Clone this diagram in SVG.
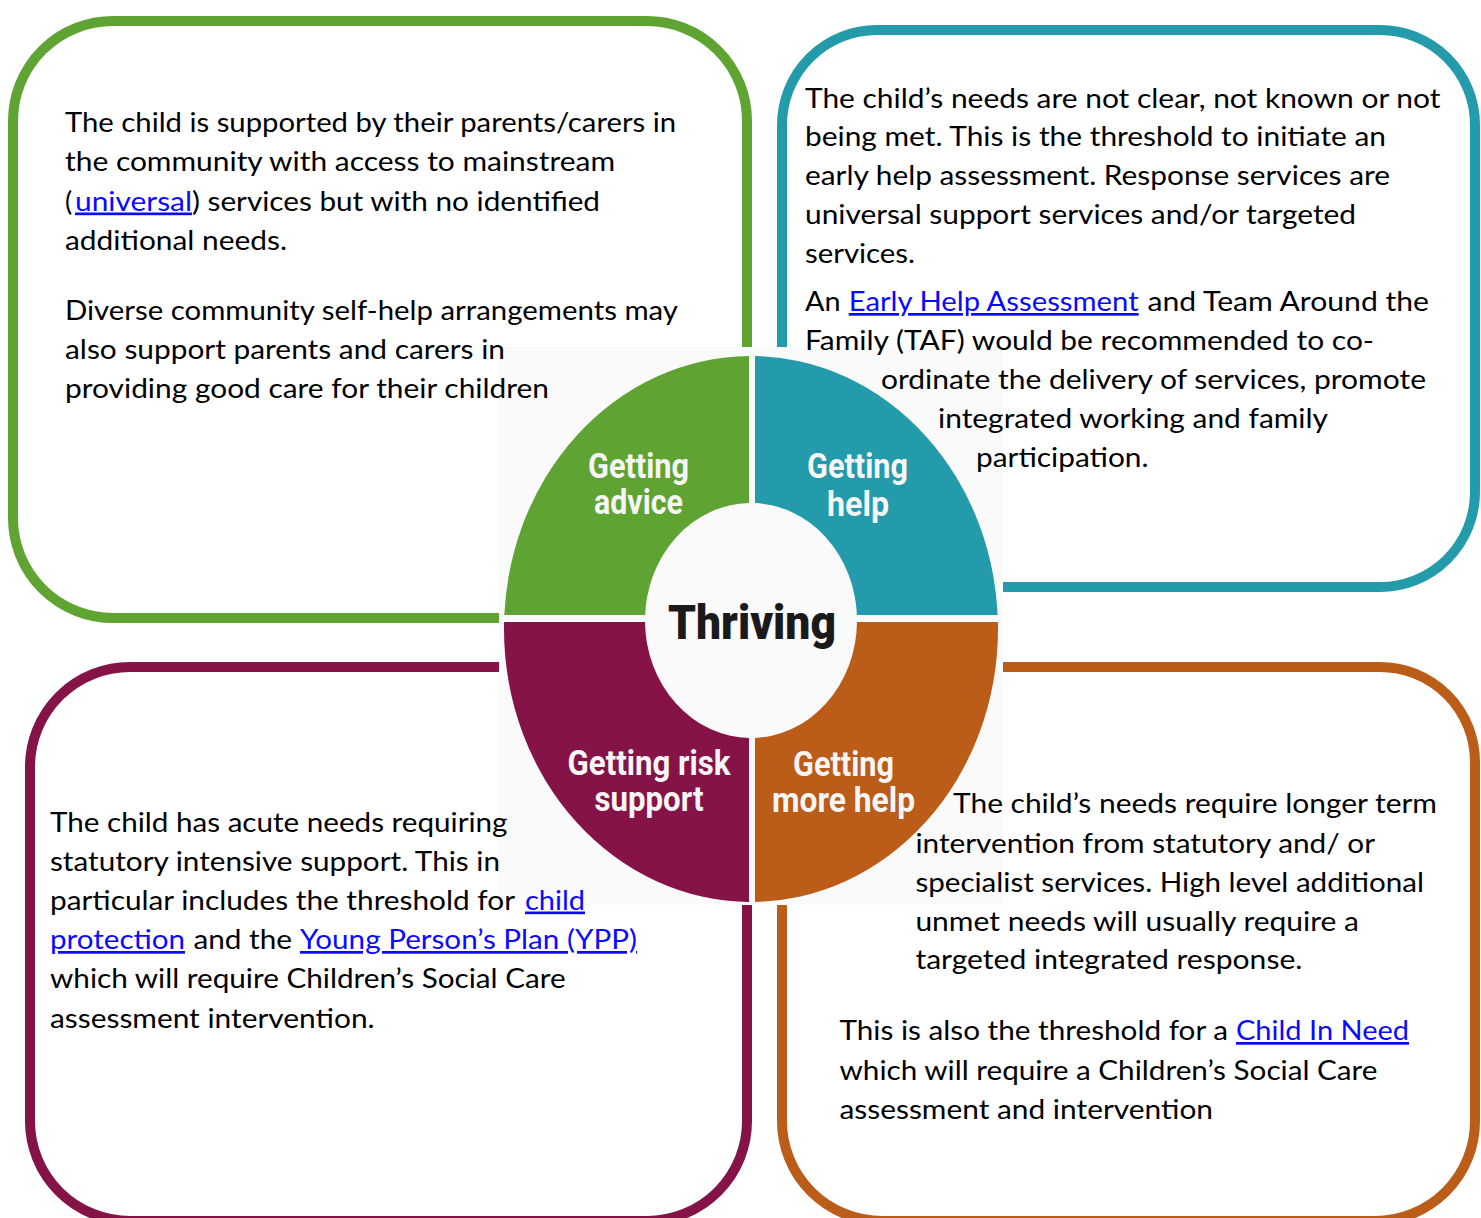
<svg xmlns="http://www.w3.org/2000/svg" xmlns:xlink="http://www.w3.org/1999/xlink" width="1481" height="1218" viewBox="0 0 1481 1218">
<style>
.body { font-family: Lato, "Liberation Sans", sans-serif; font-size: 27px; fill: #000; }
.link { fill: #0a0aff; text-decoration: underline; }
.lbl { font-family: Roboto, "DejaVu Sans", sans-serif; font-weight: 700; font-size: 35px; fill: #f6f6f6; text-anchor: middle; }
.ttl { font-family: Roboto, "DejaVu Sans", sans-serif; font-weight: 900; font-size: 49px; fill: #1a1a1a; text-anchor: middle; }
.box { fill: none; stroke-width: 10; }
</style>
<defs>
  <path id="ring" fill-rule="evenodd" d="M 504 629 A 247 273 0 1 0 998 629 A 247 273 0 1 0 504 629 Z M 645 620.5 A 106 117.5 0 1 0 857 620.5 A 106 117.5 0 1 0 645 620.5 Z"/>
  <clipPath id="cTL"><rect x="499" y="347" width="250" height="268"/></clipPath>
  <clipPath id="cTR"><rect x="755" y="347" width="248" height="268"/></clipPath>
  <clipPath id="cBL"><rect x="499" y="622" width="250" height="283"/></clipPath>
  <clipPath id="cBR"><rect x="755" y="622" width="248" height="283"/></clipPath>
</defs>
<rect width="1481" height="1218" fill="#ffffff"/>

<g id="donut">
  <rect x="499" y="347" width="504" height="558" fill="#fafafa"/>
  <use xlink:href="#ring" href="#ring" fill="#5fa432" clip-path="url(#cTL)"/>
  <use xlink:href="#ring" href="#ring" fill="#239baa" clip-path="url(#cTR)"/>
  <use xlink:href="#ring" href="#ring" fill="#851348" clip-path="url(#cBL)"/>
  <use xlink:href="#ring" href="#ring" fill="#bb5c18" clip-path="url(#cBR)"/>
  <text class="lbl"><tspan x="638.5" y="478" textLength="101" lengthAdjust="spacingAndGlyphs">Getting</tspan><tspan x="638.5" y="514" textLength="89" lengthAdjust="spacingAndGlyphs">advice</tspan></text>
  <text class="lbl"><tspan x="857.5" y="478" textLength="101" lengthAdjust="spacingAndGlyphs">Getting</tspan><tspan x="858" y="516" textLength="62" lengthAdjust="spacingAndGlyphs">help</tspan></text>
  <text class="ttl" x="752" y="639" textLength="168" lengthAdjust="spacingAndGlyphs">Thriving</text>
  <text class="lbl"><tspan x="649" y="775" textLength="163" lengthAdjust="spacingAndGlyphs">Getting risk</tspan><tspan x="649" y="811" textLength="109" lengthAdjust="spacingAndGlyphs">support</tspan></text>
  <text class="lbl"><tspan x="843.5" y="776" textLength="101" lengthAdjust="spacingAndGlyphs">Getting</tspan><tspan x="843.5" y="812" textLength="143" lengthAdjust="spacingAndGlyphs">more help</tspan></text>
</g>

<g id="box-getting-advice">
  <path class="box" stroke="#5fa432" d="M 499 618 H 113 A 100 100 0 0 1 13 518 V 121 A 100 100 0 0 1 113 21 H 647 A 100 100 0 0 1 747 121 V 347"/>
  <text class="body" x="65" y="132" textLength="611" lengthAdjust="spacingAndGlyphs">The child is supported by their parents/carers in</text>
  <text class="body" x="65" y="171" textLength="550" lengthAdjust="spacingAndGlyphs">the community with access to mainstream</text>
  <text class="body" x="65" y="210.5">(</text>
  <text class="body link" x="75" y="210.5" textLength="117" lengthAdjust="spacingAndGlyphs">universal</text>
  <text class="body" x="192" y="210.5" textLength="408" lengthAdjust="spacingAndGlyphs">) services but with no identified</text>
  <text class="body" x="65" y="250" textLength="222" lengthAdjust="spacingAndGlyphs">additional needs.</text>
  <text class="body" x="65" y="320" textLength="613" lengthAdjust="spacingAndGlyphs">Diverse community self-help arrangements may</text>
  <text class="body" x="65" y="359" textLength="440" lengthAdjust="spacingAndGlyphs">also support parents and carers in</text>
  <text class="body" x="65" y="398" textLength="484" lengthAdjust="spacingAndGlyphs">providing good care for their children</text>
</g>

<g id="box-getting-help">
  <path class="box" stroke="#239baa" d="M 782 347 V 125 A 95 95 0 0 1 877 30 H 1380 A 95 95 0 0 1 1475 125 V 492 A 95 95 0 0 1 1380 587 H 1003"/>
  <text class="body" x="805" y="107.5" textLength="635.5" lengthAdjust="spacingAndGlyphs">The child’s needs are not clear, not known or not</text>
  <text class="body" x="805" y="146" textLength="581" lengthAdjust="spacingAndGlyphs">being met. This is the threshold to initiate an</text>
  <text class="body" x="805" y="185" textLength="585" lengthAdjust="spacingAndGlyphs">early help assessment. Response services are</text>
  <text class="body" x="805" y="224" textLength="551" lengthAdjust="spacingAndGlyphs">universal support services and/or targeted</text>
  <text class="body" x="805" y="263" textLength="110" lengthAdjust="spacingAndGlyphs">services.</text>
  <text class="body" x="805" y="311" textLength="35.5" lengthAdjust="spacingAndGlyphs">An</text>
  <text class="body link" x="848.7" y="311" textLength="290" lengthAdjust="spacingAndGlyphs">Early Help Assessment</text>
  <text class="body" x="1147.6" y="311" textLength="281.4" lengthAdjust="spacingAndGlyphs">and Team Around the</text>
  <text class="body" x="805" y="350" textLength="569" lengthAdjust="spacingAndGlyphs">Family (TAF) would be recommended to co-</text>
  <text class="body" x="881" y="389" textLength="545" lengthAdjust="spacingAndGlyphs">ordinate the delivery of services, promote</text>
  <text class="body" x="938" y="428" textLength="390" lengthAdjust="spacingAndGlyphs">integrated working and family</text>
  <text class="body" x="976" y="466.5" textLength="172.5" lengthAdjust="spacingAndGlyphs">participation.</text>
</g>

<g id="box-getting-risk-support">
  <path class="box" stroke="#851348" d="M 499 667 H 130 A 100 100 0 0 0 30 767 V 1121 A 100 100 0 0 0 130 1221 H 647 A 100 100 0 0 0 747 1121 V 905"/>
  <text class="body" x="50" y="832" textLength="457.5" lengthAdjust="spacingAndGlyphs">The child has acute needs requiring</text>
  <text class="body" x="50" y="871" textLength="450" lengthAdjust="spacingAndGlyphs">statutory intensive support. This in</text>
  <text class="body" x="50" y="909.5" textLength="465" lengthAdjust="spacingAndGlyphs">particular includes the threshold for</text>
  <text class="body link" x="525" y="909.5" textLength="60" lengthAdjust="spacingAndGlyphs">child</text>
  <text class="body link" x="50" y="949" textLength="135" lengthAdjust="spacingAndGlyphs">protection</text>
  <text class="body" x="193.5" y="949" textLength="98.5" lengthAdjust="spacingAndGlyphs">and the</text>
  <text class="body link" x="300" y="949" textLength="337" lengthAdjust="spacingAndGlyphs">Young Person’s Plan (YPP)</text>
  <text class="body" x="50" y="988" textLength="515.7" lengthAdjust="spacingAndGlyphs">which will require Children’s Social Care</text>
  <text class="body" x="50" y="1027.5" textLength="324.6" lengthAdjust="spacingAndGlyphs">assessment intervention.</text>
</g>

<g id="box-getting-more-help">
  <path class="box" stroke="#bb5c18" d="M 1003 667 H 1380 A 95 95 0 0 1 1475 762 V 1121 A 100 100 0 0 1 1375 1221 H 882 A 100 100 0 0 1 782 1121 V 905"/>
  <text class="body" x="953" y="813" textLength="484" lengthAdjust="spacingAndGlyphs">The child’s needs require longer term</text>
  <text class="body" x="915.4" y="853" textLength="459.6" lengthAdjust="spacingAndGlyphs">intervention from statutory and/ or</text>
  <text class="body" x="915.4" y="892" textLength="508.6" lengthAdjust="spacingAndGlyphs">specialist services. High level additional</text>
  <text class="body" x="915.4" y="930.5" textLength="443.6" lengthAdjust="spacingAndGlyphs">unmet needs will usually require a</text>
  <text class="body" x="915.4" y="968.5" textLength="387" lengthAdjust="spacingAndGlyphs">targeted integrated response.</text>
  <text class="body" x="839.5" y="1040" textLength="388.5" lengthAdjust="spacingAndGlyphs">This is also the threshold for a</text>
  <text class="body link" x="1236" y="1040" textLength="173" lengthAdjust="spacingAndGlyphs">Child In Need</text>
  <text class="body" x="839.5" y="1080" textLength="538" lengthAdjust="spacingAndGlyphs">which will require a Children’s Social Care</text>
  <text class="body" x="839.5" y="1118.5" textLength="373.5" lengthAdjust="spacingAndGlyphs">assessment and intervention</text>
</g>

<g id="connectors"></g>
</svg>
